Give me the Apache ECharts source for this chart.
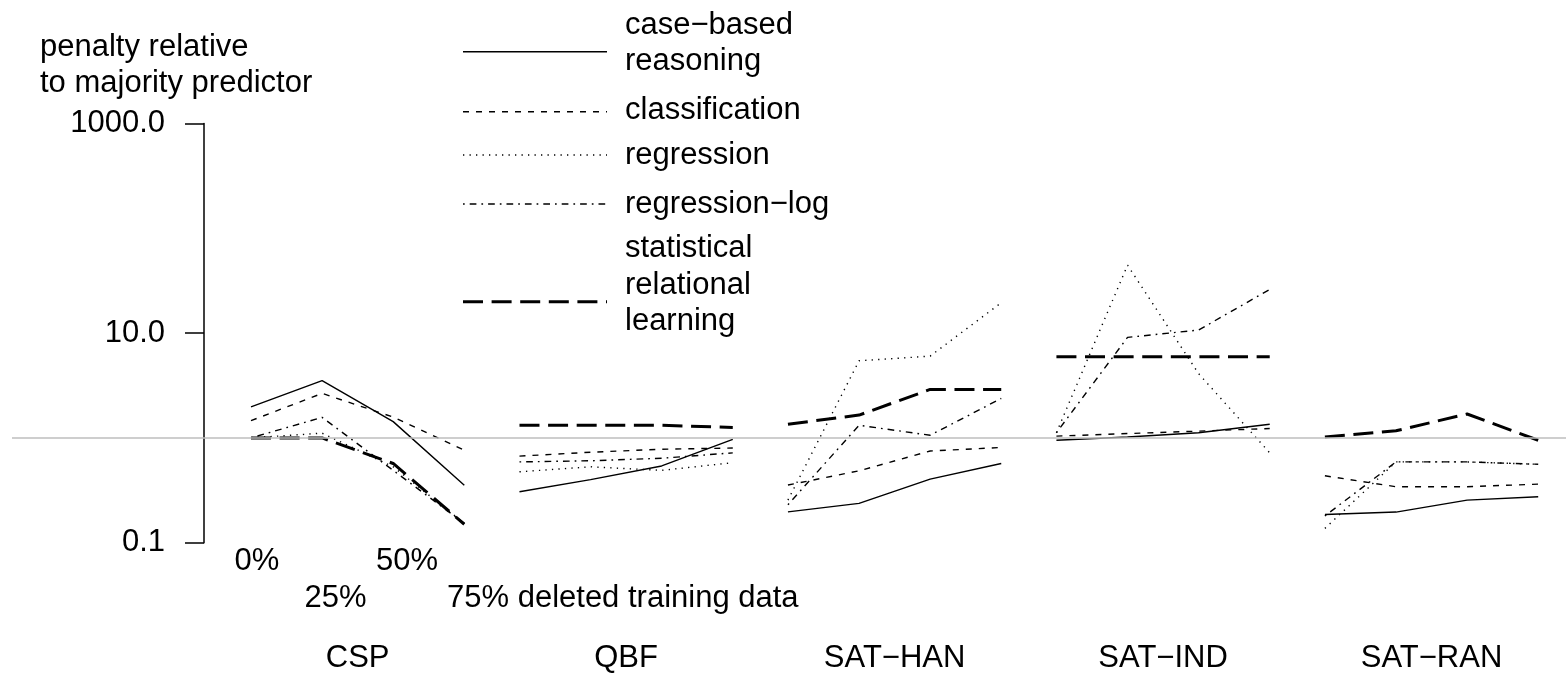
<!DOCTYPE html>
<html>
<head>
<meta charset="utf-8">
<title>penalty relative to majority predictor</title>
<script src="https://cdn.jsdelivr.net/npm/echarts@6/dist/echarts.min.js"></script>
<style>
    html, body { margin: 0; padding: 0; background: #fff; }
    #main { width: 1566px; height: 677px; }
</style>
</head>
<body>
<!-- chart container -->
<div id="main"></div>
<script>
// problem sets, one block of four points each
var groups = ['CSP', 'QBF', 'SAT−HAN', 'SAT−IND', 'SAT−RAN'];
// share of the training data that was deleted
var pctLabels = ['0%', '25%', '50%', '75%'];
var methods = ['case−based\nreasoning', 'classification', 'regression', 'regression−log', 'statistical\nrelational\nlearning'];

// penalty relative to majority predictor, one row per problem set (0%, 25%, 50%, 75%)
var caseBased = [
    [1.98, 3.52, 1.43, 0.353],
    [0.306, 0.40, 0.54, 0.97],
    [0.197, 0.237, 0.404, 0.57],
    [0.95, 1.02, 1.12, 1.35],
    [0.186, 0.196, 0.255, 0.274]
];
var classification = [
    [1.46, 2.66, 1.58, 0.765],
    [0.67, 0.73, 0.78, 0.80],
    [0.355, 0.485, 0.75, 0.81],
    [1.04, 1.10, 1.16, 1.23],
    [0.435, 0.342, 0.342, 0.362]
];
var regression = [
    [1.0, 1.11, 0.53, 0.153],
    [0.475, 0.53, 0.49, 0.58],
    [0.255, 5.44, 6.03, 19.5],
    [1.12, 44.5, 4.1, 0.72],
    [0.137, 0.59, 0.59, 0.56]
];
var regressionLog = [
    [1.0, 1.57, 0.49, 0.153],
    [0.59, 0.605, 0.64, 0.72],
    [0.23, 1.32, 1.06, 2.38],
    [1.12, 9.1, 10.7, 26.1],
    [0.18, 0.59, 0.59, 0.56]
];
var srl = [
    [1.0, 1.0, 0.57, 0.15],
    [1.32, 1.32, 1.32, 1.26],
    [1.35, 1.65, 2.9, 2.9],
    [5.94, 5.94, 5.94, 5.94],
    [1.02, 1.17, 1.69, 0.95]
];

// line looks, same order as methods
var lineTypes = ['solid', [6, 7], [1.3, 5.2], [1.7, 5, 6.7, 5], [20, 8.6]];
var lineWidths = [1.4, 1.4, 1.4, 1.4, 3];

var font = '"Liberation Sans", Arial, Helvetica, sans-serif';
var firstX = 0.661;   // x of the first point, y axis sits at x = 0
var groupStep = 3.776; // distance between problem sets

function seriesData(rows) {
    var out = [];
    rows.forEach(function (row, g) {
        row.forEach(function (v, i) {
            out.push([firstX + g * groupStep + i, v]);
        });
        out.push([firstX + g * groupStep + 3.5, '-']); // break between sets
    });
    return out;
}

var series = [];
[caseBased, classification, regression, regressionLog, srl].forEach(function (rows, k) {
    series.push({
        name: methods[k].replace(/\n/g, ' '),
        type: 'line',
        data: seriesData(rows),
        symbol: 'none',
        connectNulls: false,
        silent: true,
        z: 2,
        lineStyle: { color: '#000', width: lineWidths[k], type: lineTypes[k], cap: 'butt' }
    });
});

var myChart = echarts.init(document.getElementById('main'));

var option = {
    animation: false,
    backgroundColor: '#fff',
    grid: { left: 204, right: 0, top: 123.5, height: 419.2, containLabel: false, outerBoundsMode: 'none' },
    xAxis: {
        type: 'value',
        show: false,
        min: 0,
        max: 19.156
    },
    yAxis: {
        type: 'log',
        logBase: 10,
        min: 0.1,
        max: 1000,
        interval: 2,
        axisLine: { show: true, onZero: false, lineStyle: { color: '#000', width: 1.5 } },
        axisTick: { show: true, length: 19, lineStyle: { color: '#000', width: 1.5 } },
        axisLabel: {
            show: true,
            margin: 39, fontSize: 31, fontFamily: font, color: '#000',
            showMinLabel: true, showMaxLabel: true,
            formatter: function (v) { return Number(v).toFixed(1); }
        },
        splitLine: { show: false }
    },
    series: series
};
myChart.setOption(option);

// texts, reference line and legend drawn on top
var graphics = [];
function txt(s, x, y, align) {
    graphics.push({
        type: 'text', x: x, y: y, silent: true,
        style: { text: s, font: '31px ' + font, fill: '#000', align: align || 'center', verticalAlign: 'middle', lineHeight: 36.7 }
    });
}

// grey line at 1.0 = same as majority predictor
var oneY = myChart.convertToPixel({ yAxisIndex: 0 }, 1);
graphics.push({
    type: 'line', silent: true, z: 10,
    shape: { x1: 12, y1: oneY, x2: 1566, y2: oneY },
    style: { stroke: '#bebebe', lineWidth: 1.5 }
});

// y axis title
txt('penalty relative', 40, 47, 'left');
txt('to majority predictor', 40, 83, 'left');

// percent labels under the first block, staggered on two rows
txt(pctLabels[0], 257, 561);
txt(pctLabels[1], 335.5, 598);
txt(pctLabels[2], 407, 561);
txt(pctLabels[3] + ' deleted training data', 447, 598, 'left');

// problem set names, centred under each block
groups.forEach(function (name, g) {
    var p = myChart.convertToPixel({ gridIndex: 0 }, [firstX + g * groupStep + 1.5, 1]);
    txt(name, p[0], 658);
});

// legend
var legendLineY = [51.7, 111.7, 155, 204, 301.7];
var legendTextY = [43.4, 110, 155, 204, 285];
methods.forEach(function (m, k) {
    graphics.push({
        type: 'line', silent: true,
        shape: { x1: 463, y1: legendLineY[k], x2: 607, y2: legendLineY[k] },
        style: { stroke: '#000', lineWidth: lineWidths[k], lineDash: lineTypes[k] === 'solid' ? null : lineTypes[k], lineCap: 'butt' }
    });
    txt(m, 625, legendTextY[k], 'left');
});

myChart.setOption({ graphic: graphics });
</script>
</body>
</html>
